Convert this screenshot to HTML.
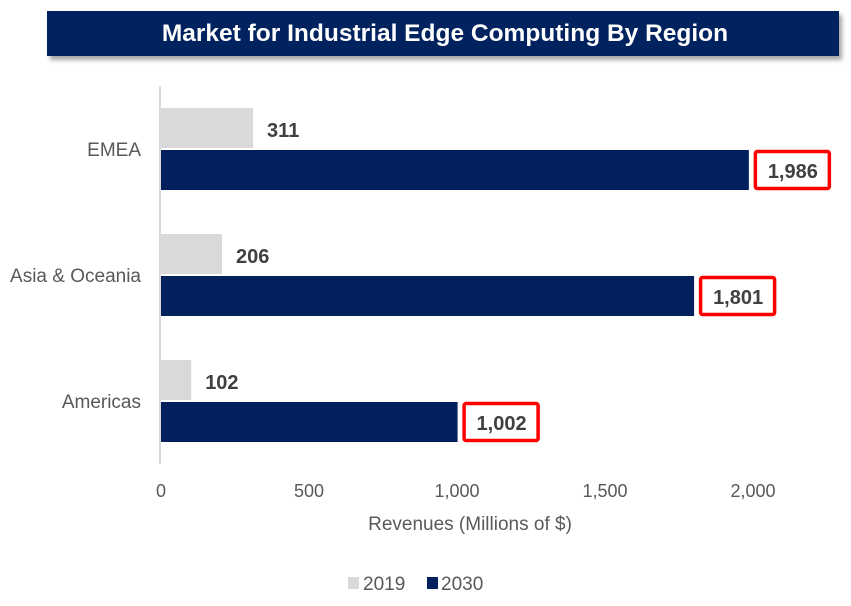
<!DOCTYPE html>
<html><head><meta charset="utf-8"><style>
body{margin:0;background:#fff;font-family:"Liberation Sans",sans-serif}
#wrap{position:relative;width:851px;height:606px;overflow:hidden}
</style></head><body>
<div id="wrap">
<svg id="c" width="851" height="606" xmlns="http://www.w3.org/2000/svg">
<defs><filter id="sh" x="-5%" y="-20%" width="110%" height="160%"><feDropShadow dx="3" dy="4" stdDeviation="2" flood-color="#000" flood-opacity="0.35"/></filter></defs>
<rect x="47" y="11" width="792" height="45" fill="#03205e" filter="url(#sh)"/>
<text x="445" y="41" text-anchor="middle" fill="#fff" font-size="24.5" font-weight="bold">Market for Industrial Edge Computing By Region</text>
<line x1="160" y1="86" x2="160" y2="464" stroke="#d9d9d9" stroke-width="2"/>
<g id="bars"></g>
<g id="ticks"></g>
<text x="470" y="530" text-anchor="middle" fill="#595959" font-size="19">Revenues (Millions of $)</text>
<g>
<g><rect x="348" y="577" width="11" height="12" fill="#d9d9d9"/><text x="363" y="590" fill="#595959" font-size="19">2019</text></g>
<g><rect x="427" y="577" width="11" height="12" fill="#03205e"/><text x="441" y="590" fill="#595959" font-size="19">2030</text></g>
</g>
</svg>
</div>
<script>
const categories=["EMEA","Asia & Oceania","Americas"];
const values2019=[311,206,102];
const values2030=[1986,1801,1002];
const tickValues=[0,500,1000,1500,2000];
const tickLabels=["0","500","1,000","1,500","2,000"];
const NS="http://www.w3.org/2000/svg";
const x=v=>161+v*0.296;
const groupTop=i=>108+i*126;
function mk(t,a,p){const e=document.createElementNS(NS,t);for(const k in a)e.setAttribute(k,a[k]);p.appendChild(e);return e;}
const bars=document.getElementById('bars');
const fmt=v=>v.toLocaleString('en-US');
categories.forEach((c,i)=>{
  const y=groupTop(i);
  const lab=mk('text',{x:141,y:y+48,'text-anchor':'end',fill:'#595959','font-size':19},bars);lab.textContent=c;
  
  
  const b1=mk('rect',{x:161,y:y,width:x(values2019[i])-161,height:40,fill:'#d9d9d9'},bars);
  
  
  const t1=mk('text',{x:x(values2019[i])+14,y:y+29,fill:'#404040','font-size':20,'font-weight':'bold'},bars);t1.textContent=fmt(values2019[i]);
  
  
  const b2=mk('rect',{x:161,y:y+42,width:x(values2030[i])-161,height:40,fill:'#03205e'},bars);
  
  
  const bx=x(values2030[i])+5;
  const r=mk('rect',{x:bx+1.5,y:y+43.5,width:74,height:37,fill:'#fff',stroke:'#ff0000','stroke-width':3.5,rx:2},bars);
  
  
  const t2=mk('text',{x:bx+39,y:y+70,'text-anchor':'middle',fill:'#404040','font-size':20,'font-weight':'bold'},bars);t2.textContent=fmt(values2030[i]);
  
  
});
const ticks=document.getElementById('ticks');
tickValues.forEach((v,i)=>{
  const t=mk('text',{x:x(v),y:497,'text-anchor':'middle',fill:'#595959','font-size':18},ticks);t.textContent=tickLabels[i];
  
  
});
</script>
</body></html>
